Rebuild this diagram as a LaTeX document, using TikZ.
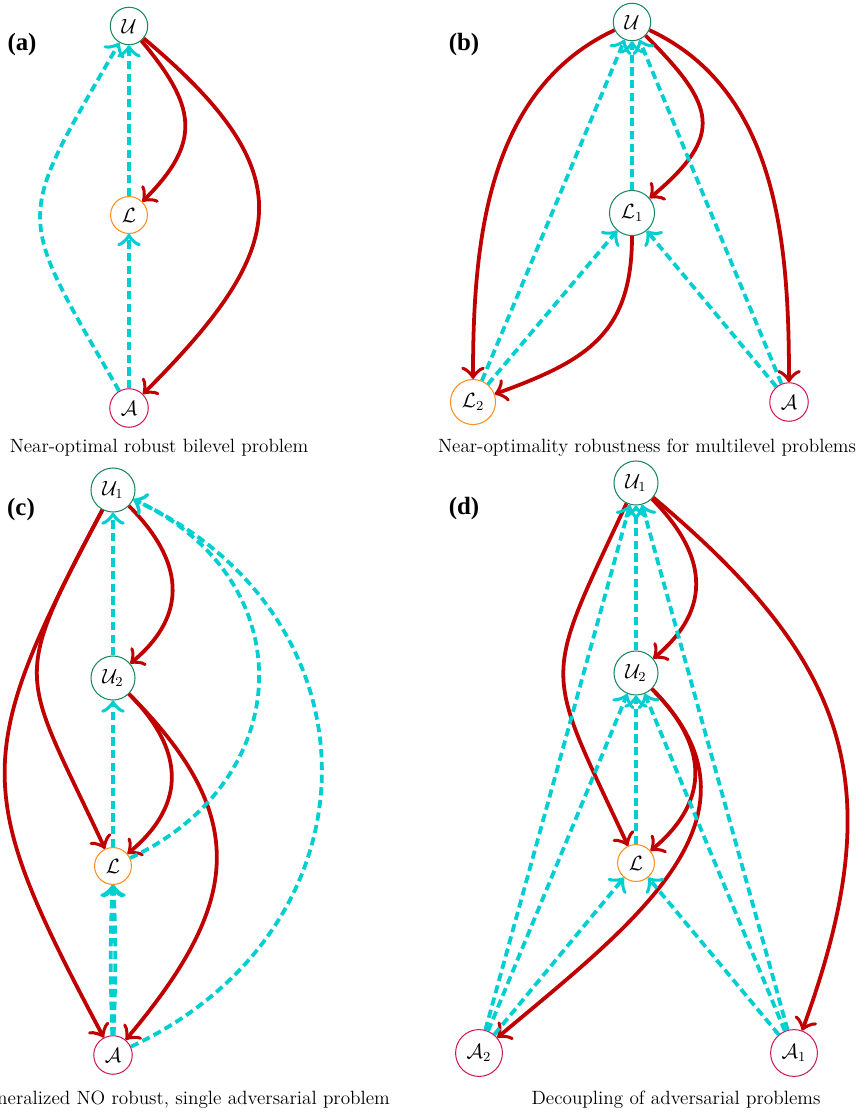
\documentclass[tikz,border=0pt]{standalone}
\usepackage{amsmath}
\usepackage{fontspec}
\newfontfamily\labfont{Liberation Serif}
\usetikzlibrary{arrows.meta}

\definecolor{ucol}{RGB}{25,135,95}
\definecolor{lcol}{RGB}{255,140,26}
\definecolor{acol}{RGB}{204,25,85}
\definecolor{redarr}{RGB}{192,0,0}
\definecolor{cyanarr}{RGB}{0,206,209}

\tikzset{
	basenode/.style={circle, draw, line width=0.6pt, inner sep=3.5pt, font=\large},
	leader/.style={basenode, draw=ucol},
	follower/.style={basenode, draw=lcol},
	adversary/.style={basenode, draw=acol},
	decision/.style={-{Classical TikZ Rightarrow[scale=1.35]}, draw=redarr, line width=2.2pt},
	reaction/.style={-{Classical TikZ Rightarrow[scale=1.35]}, draw=cyanarr, line width=2.2pt, dash pattern=on 4.8pt off 2.6pt},
	panel/.style={font=\labfont\bfseries\fontsize{14.5}{17}\selectfont},
	subcap/.style={font=\fontsize{11.2}{13}\selectfont}
}

\begin{document}
\begin{tikzpicture}[x=0.0205cm, y=0.0205cm]
			\useasboundingbox (0,0) rectangle (861,-1112);
			% (a)
			\node[panel] (labA) at (22,-45) {(a)};
			\node[leader] (Ua) at (129,-26) {$\mathcal{U}$};
			\node[follower] (La) at (129,-215) {$\mathcal{L}$};
			\node[adversary] (Aa) at (129,-408) {$\mathcal{A}$};
			\draw[decision] (Ua) to[out=-50,in=45,looseness=1.35] (La);
			\draw[decision] (Ua) to[out=-40,in=45,looseness=1.5] (Aa);
			\draw[reaction] (La) -- (Ua);
			\draw[reaction] (Aa) -- (La);
			\draw[reaction] (Aa) to[out=120,in=-120,looseness=1.55] (Ua);
			\node[subcap] (capA) at (159,-448) {Near-optimal robust bilevel problem};
			% (b)
			\node[panel] (labB) at (464,-45) {(b)};
			\node[leader] (Ub) at (632,-22) {$\mathcal{U}$};
			\node[leader] (L1b) at (632,-213) {$\mathcal{L}_1$};
			\node[follower] (L2b) at (473,-402) {$\mathcal{L}_2$};
			\node[adversary] (Ab) at (789,-402) {$\mathcal{A}$};
			\draw[decision] (Ub) to[out=-155,in=90,looseness=0.95] (L2b);
			\draw[decision] (Ub) to[out=-25,in=90,looseness=0.95] (Ab);
			\draw[decision] (Ub) to[out=-45,in=40,looseness=1.55] (L1b);
			\draw[decision] (L1b) to[out=-90,in=20,looseness=1.2] (L2b);
			\draw[reaction] (L1b) -- (Ub);
			\draw[reaction] (L2b) -- (Ub);
			\draw[reaction] (L2b) -- (L1b);
			\draw[reaction] (Ab) -- (Ub);
			\draw[reaction] (Ab) -- (L1b);
			\node[subcap] (capB) at (647,-448) {Near-optimality robustness for multilevel problems};
			% (c)
			\node[panel] (labC) at (21,-510) {(c)};
			\node[leader] (U1c) at (113,-490) {$\mathcal{U}_1$};
			\node[leader] (U2c) at (113,-678) {$\mathcal{U}_2$};
			\node[follower] (Lc) at (113,-866) {$\mathcal{L}$};
			\node[adversary] (Ac) at (113,-1055) {$\mathcal{A}$};
			\draw[decision] (U1c) to[out=-45,in=40,looseness=1.25] (U2c);
			\draw[decision] (U1c) to[out=-118,in=115,looseness=1.5] (Lc);
			\draw[decision] (U1c) to[out=-118,in=118,looseness=1.35] (Ac);
			\draw[decision] (U2c) to[out=-45,in=40,looseness=1.25] (Lc);
			\draw[decision] (U2c) to[out=-45,in=50,looseness=1.3] (Ac);
			\draw[reaction] (U2c) -- (U1c);
			\draw[reaction] (Lc) -- (U2c);
			\draw[reaction] (Ac) to[bend left=2] (Lc);
			\draw[reaction] (Ac) to[bend right=2] (Lc);
			\draw[reaction] (Lc) to[out=25,in=-25,looseness=1.33] (U1c);
			\draw[reaction] (Ac) to[out=25,in=-25,looseness=1.3] (U1c);
			\node[subcap] (capC) at (182,-1100) {Generalized NO robust, single adversarial problem};
			% (d)
			\node[panel] (labD) at (464,-509) {(d)};
			\node[leader] (U1d) at (636,-483) {$\mathcal{U}_1$};
			\node[leader] (U2d) at (636,-673) {$\mathcal{U}_2$};
			\node[follower] (Ld) at (636,-863) {$\mathcal{L}$};
			\node[adversary] (A2d) at (479,-1053) {$\mathcal{A}_2$};
			\node[adversary] (A1d) at (794,-1053) {$\mathcal{A}_1$};
			\draw[decision] (U1d) to[out=-45,in=40,looseness=1.25] (U2d);
			\draw[decision] (U1d) to[out=-115,in=115,looseness=1.5] (Ld);
			\draw[decision] (U1d) to[out=-40,in=70,looseness=1.2] (A1d);
			\draw[decision] (U2d) to[out=-45,in=40,looseness=1.25] (Ld);
			\draw[decision] (U2d) to[out=-45,in=40,looseness=1.2] (A2d);
			\draw[reaction] (U2d) -- (U1d);
			\draw[reaction] (Ld) -- (U2d);
			\draw[reaction] (A2d) -- (U1d);
			\draw[reaction] (A2d) -- (U2d);
			\draw[reaction] (A2d) -- (Ld);
			\draw[reaction] (A1d) -- (U1d);
			\draw[reaction] (A1d) -- (U2d);
			\draw[reaction] (A1d) -- (Ld);
			\node[subcap] (capD) at (676,-1100) {Decoupling of adversarial problems};
		\end{tikzpicture}
\end{document}
